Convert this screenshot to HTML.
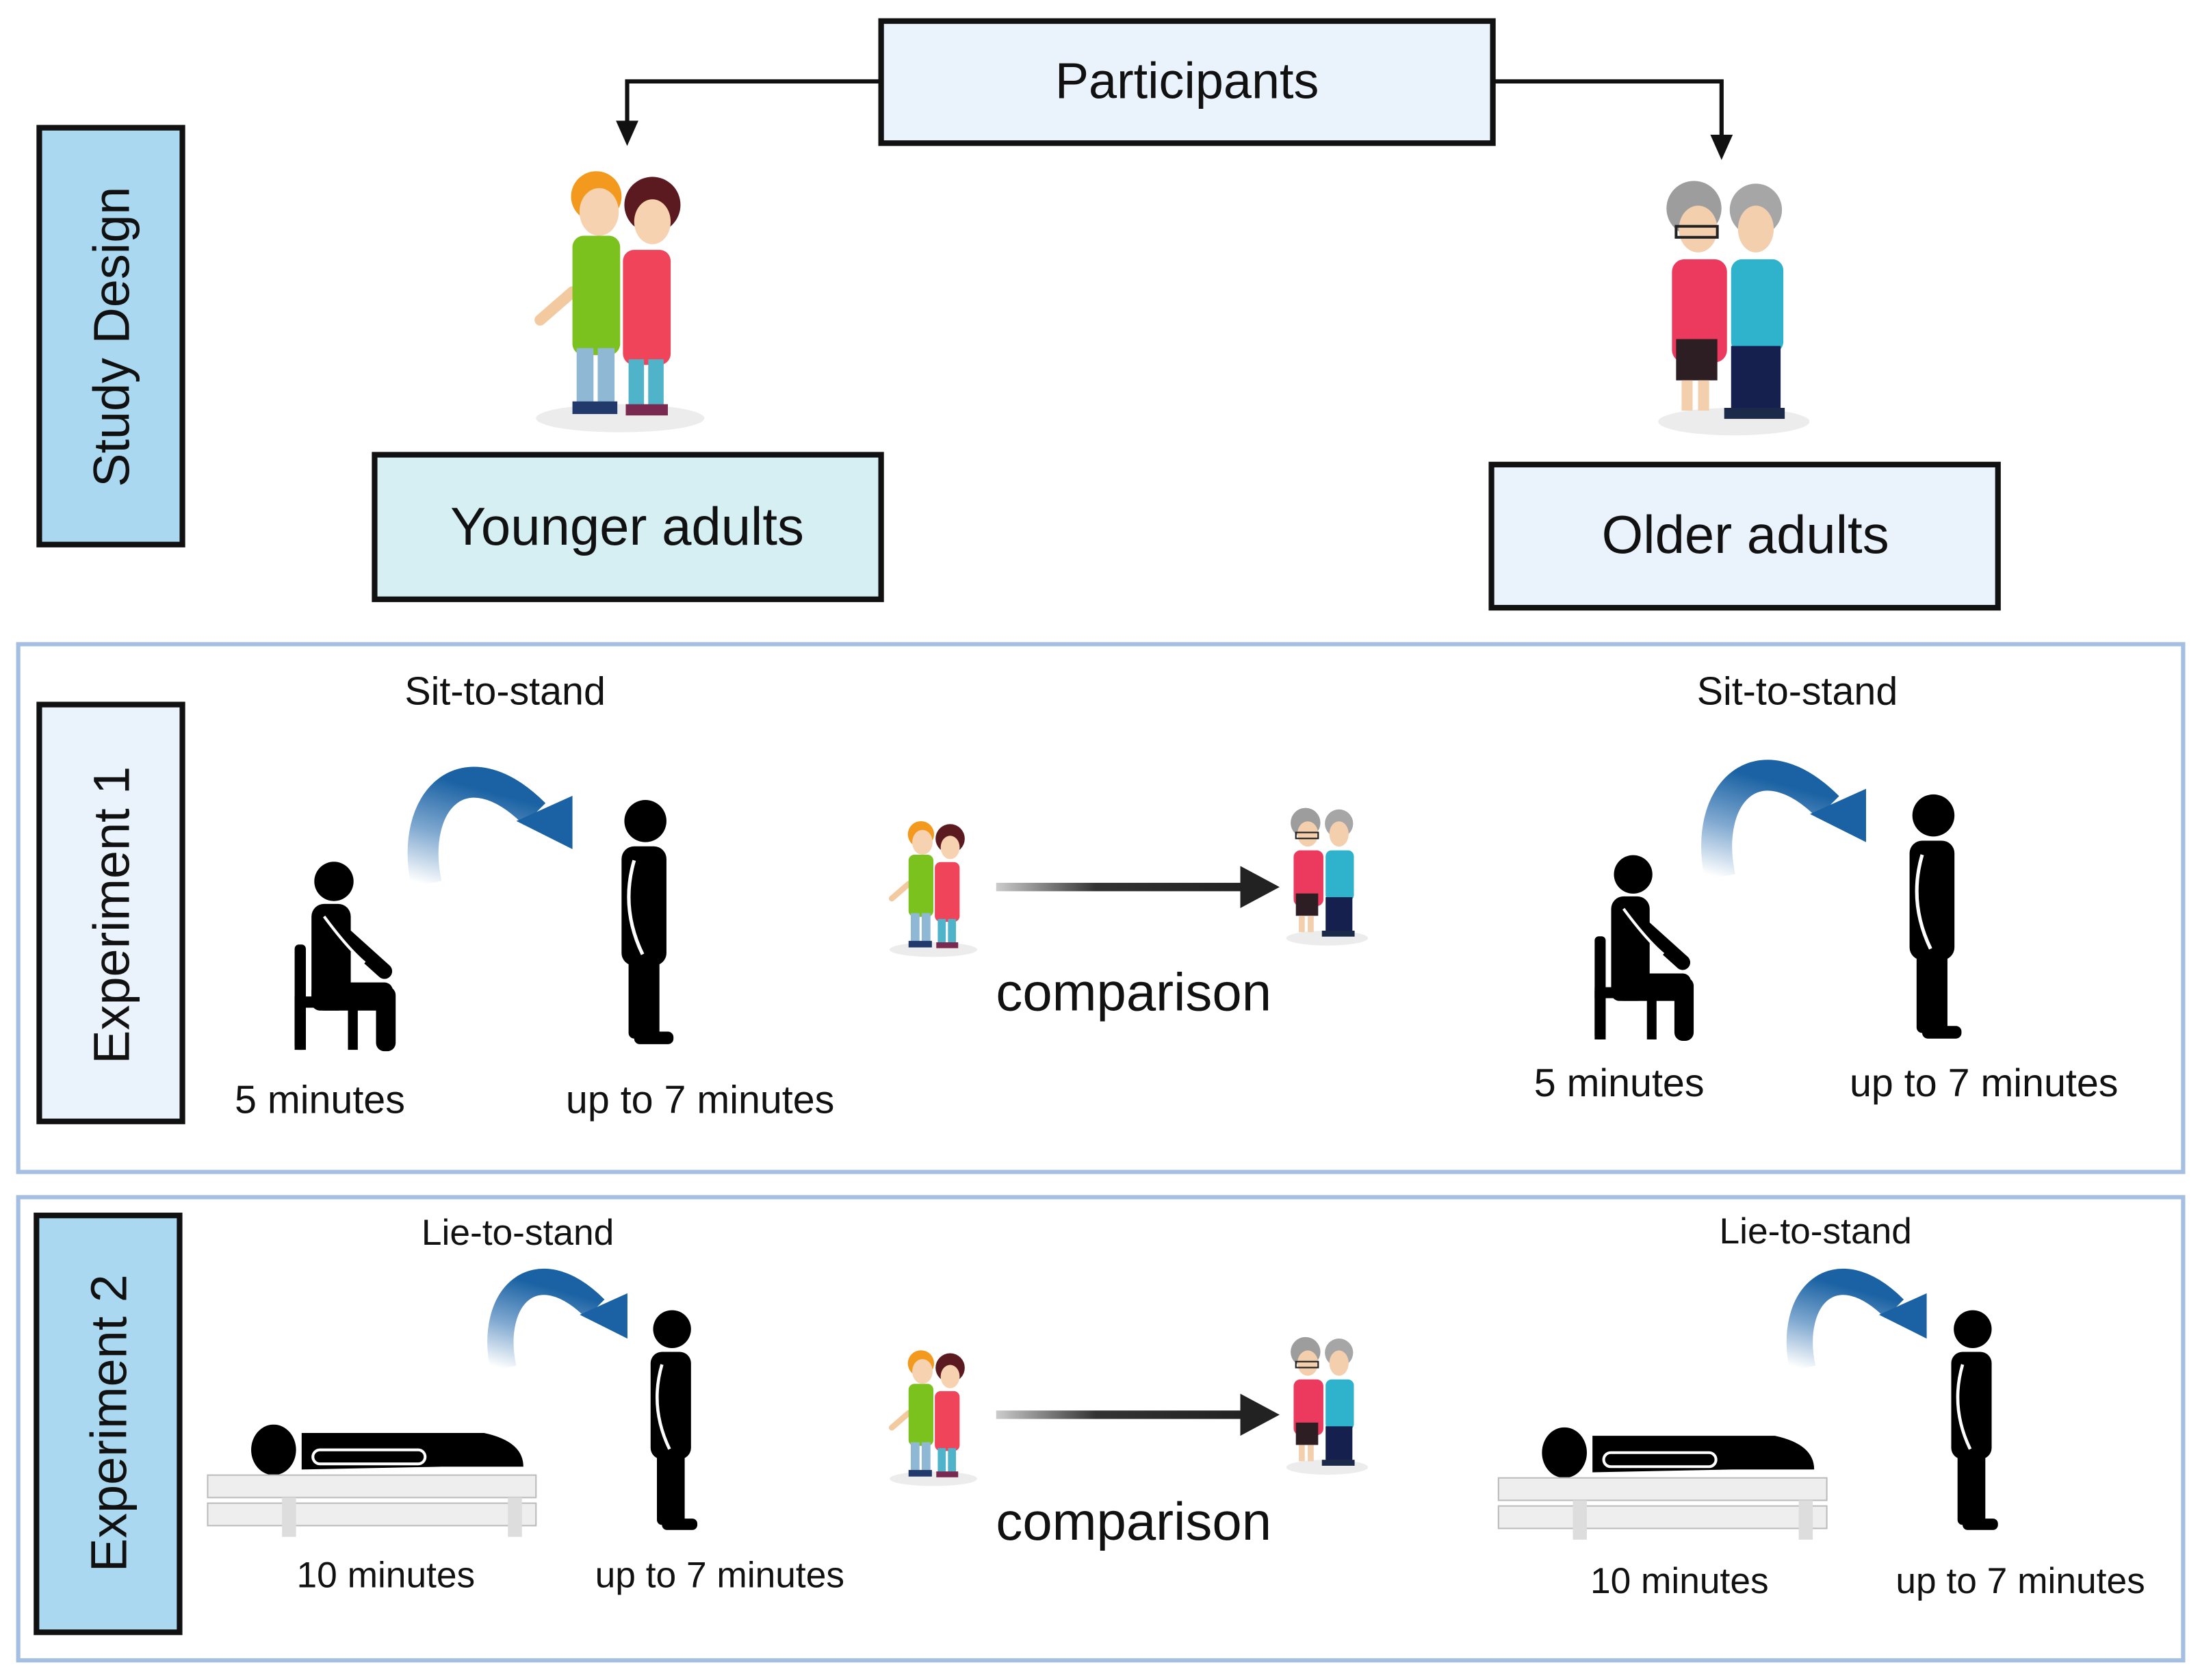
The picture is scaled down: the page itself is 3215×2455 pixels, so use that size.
<!DOCTYPE html>
<html><head><meta charset="utf-8"><style>html,body{margin:0;padding:0;background:#fff}svg{display:block}text{font-family:"Liberation Sans",sans-serif;fill:#111}</style></head>
<body>
<svg width="3215" height="2455" viewBox="0 0 1568 1197" preserveAspectRatio="none" xmlns="http://www.w3.org/2000/svg">
<defs>
<linearGradient id="ag" x1="0" y1="1" x2="0.3" y2="0"><stop offset="0" stop-color="#ffffff"/><stop offset="0.5" stop-color="#7fa8d0"/><stop offset="1" stop-color="#1a62a3"/></linearGradient>
<linearGradient id="cg" x1="0" y1="0" x2="1" y2="0"><stop offset="0" stop-color="#ccc"/><stop offset="0.4" stop-color="#333"/><stop offset="1" stop-color="#222"/></linearGradient>
<g id="stand">
<circle cx="0" cy="0" r="15"/>
<rect x="-17" y="18" width="32" height="85" rx="9"/>
<rect x="-12" y="95" width="22" height="60" rx="4"/>
<rect x="-8" y="150" width="28" height="9" rx="4"/>
<path d="M-8 28 Q-18 62 -2 95" stroke="#fff" stroke-width="2.5" fill="none"/>
</g>
<g id="sit">
<circle cx="0" cy="0" r="14"/>
<rect x="-28" y="45" width="8" height="75" rx="3"/>
<rect x="-28" y="82" width="45" height="8"/>
<rect x="-28" y="85" width="8" height="35"/>
<rect x="10" y="85" width="7" height="35"/>
<rect x="-16" y="16" width="28" height="76" rx="9"/>
<rect x="-16" y="72" width="58" height="20" rx="6"/>
<rect x="30" y="75" width="14" height="46" rx="6"/>
<path d="M-4 28 L36 64" stroke="#000" stroke-width="11" stroke-linecap="round"/>
<path d="M-7 25 Q10 48 22 58" stroke="#fff" stroke-width="2" fill="none"/>
</g>
<g id="curve">
<path d="M8 0 C-5 -60 35 -100 85 -50" stroke="url(#ag)" stroke-width="22" fill="none"/>
<polygon points="112,-25 112,-63 72,-45" fill="#1a62a3"/>
</g>
<g id="lie">
<ellipse cx="0" cy="0" rx="16" ry="18"/>
<path d="M20 -12 L150 -12 Q178 -6 178 12 L120 12 L20 14 Z"/>
<rect x="28" y="0" width="80" height="10" rx="5" fill="none" stroke="#fff" stroke-width="2"/>
<rect x="-47" y="18" width="234" height="16" fill="#eee" stroke="#bbb"/>
<rect x="-47" y="38" width="234" height="16" fill="#eee" stroke="#bbb"/>
<rect x="6" y="34" width="10" height="28" fill="#ddd"/>
<rect x="167" y="34" width="10" height="28" fill="#ddd"/>
</g>
<g id="young">
<ellipse cx="62" cy="180" rx="60" ry="10" fill="#ececec"/>
<path d="M28 90 L5 110" stroke="#f3c9a0" stroke-width="8" stroke-linecap="round"/>
<rect x="28" y="50" width="34" height="85" rx="8" fill="#7cc21f"/>
<rect x="31" y="130" width="12" height="45" fill="#8fb8d4"/>
<rect x="46" y="130" width="12" height="45" fill="#8fb8d4"/>
<rect x="28" y="168" width="32" height="9" fill="#213a6b"/>
<circle cx="45" cy="22" r="18" fill="#f39a1e"/>
<ellipse cx="47" cy="33" rx="14" ry="17" fill="#f6d2b0"/>
<circle cx="85" cy="28" r="20" fill="#5b1a1f"/>
<ellipse cx="85" cy="40" rx="13" ry="16" fill="#f6d2b0"/>
<rect x="64" y="60" width="34" height="82" rx="8" fill="#f0445a"/>
<rect x="68" y="138" width="11" height="38" fill="#4fb3c9"/>
<rect x="82" y="138" width="11" height="38" fill="#4fb3c9"/>
<rect x="66" y="170" width="30" height="8" fill="#7a2950"/>
</g>
<g id="old">
<ellipse cx="62" cy="180" rx="55" ry="10" fill="#ececec"/>
<circle cx="33" cy="25" r="20" fill="#9d9d9d"/>
<ellipse cx="36" cy="40" rx="14" ry="17" fill="#f3cfae"/>
<rect x="20" y="38" width="30" height="8" fill="none" stroke="#222" stroke-width="2"/>
<rect x="17" y="62" width="40" height="75" rx="9" fill="#ec3a5e"/>
<rect x="20" y="120" width="30" height="30" fill="#2c1e22"/>
<rect x="24" y="150" width="8" height="22" fill="#f3cfae"/>
<rect x="36" y="150" width="8" height="22" fill="#f3cfae"/>
<circle cx="78" cy="26" r="19" fill="#a6a6a6"/>
<ellipse cx="78" cy="40" rx="13" ry="17" fill="#f3cfae"/>
<rect x="60" y="62" width="38" height="68" rx="8" fill="#2fb2cc"/>
<rect x="60" y="125" width="36" height="50" fill="#16204f"/>
<rect x="55" y="170" width="44" height="8" fill="#1c2a4a"/>
</g>
</defs>

<!-- Study design -->
<rect x="28" y="91" width="102" height="297" fill="#a9d8f0" stroke="#111" stroke-width="4"/>
<text transform="translate(92,240) rotate(-90)" font-size="36" text-anchor="middle">Study Design</text>
<rect x="628" y="15" width="436" height="87" fill="#eaf3fc" stroke="#111" stroke-width="4"/>
<text x="846" y="70" font-size="36" text-anchor="middle">Participants</text>
<polyline points="628,58 447,58 447,90" fill="none" stroke="#111" stroke-width="3"/>
<polygon points="439,86 455,86 447,104" fill="#111"/>
<polyline points="1064,58 1227,58 1227,100" fill="none" stroke="#111" stroke-width="3"/>
<polygon points="1219,96 1235,96 1227,114" fill="#111"/>
<use href="#young" transform="translate(380,118) scale(1.0)"/>
<use href="#old" transform="translate(1175,124) scale(0.98)"/>
<rect x="267" y="324" width="361" height="103" fill="#d6eff2" stroke="#111" stroke-width="4"/>
<text x="447" y="388" font-size="38" text-anchor="middle">Younger adults</text>
<rect x="1063" y="331" width="361" height="102" fill="#eaf3fc" stroke="#111" stroke-width="4"/>
<text x="1244" y="394" font-size="38" text-anchor="middle">Older adults</text>

<!-- Experiment 1 -->
<rect x="13" y="459" width="1543" height="376" fill="none" stroke="#a4bfe2" stroke-width="3"/>
<rect x="28" y="502" width="102" height="297" fill="#eaf3fc" stroke="#111" stroke-width="4"/>
<text transform="translate(92,652) rotate(-90)" font-size="36" text-anchor="middle">Experiment 1</text>
<text x="360" y="502" font-size="28" text-anchor="middle">Sit-to-stand</text>
<use href="#curve" transform="translate(296,630)"/>
<use href="#sit" transform="translate(238,628)"/>
<use href="#stand" transform="translate(460,585)"/>
<text x="228" y="793" font-size="28" text-anchor="middle">5 minutes</text>
<text x="499" y="793" font-size="28" text-anchor="middle">up to 7 minutes</text>
<use href="#young" transform="translate(633,583) scale(0.52)"/>
<use href="#old" transform="translate(913,573) scale(0.53)"/>
<rect x="710" y="629" width="178" height="6" fill="url(#cg)"/>
<polygon points="884,617 884,647 912,632" fill="#222"/>
<text x="808" y="720" font-size="38" text-anchor="middle">comparison</text>
<text x="1281" y="502" font-size="28" text-anchor="middle">Sit-to-stand</text>
<use href="#curve" transform="translate(1218,625)"/>
<use href="#sit" transform="translate(1164,623) scale(0.98)"/>
<use href="#stand" transform="translate(1378,581)"/>
<text x="1154" y="781" font-size="28" text-anchor="middle">5 minutes</text>
<text x="1414" y="781" font-size="28" text-anchor="middle">up to 7 minutes</text>

<!-- Experiment 2 -->
<rect x="13" y="853" width="1543" height="330" fill="none" stroke="#a4bfe2" stroke-width="3"/>
<rect x="26" y="866" width="102" height="297" fill="#a9d8f0" stroke="#111" stroke-width="4"/>
<text transform="translate(90,1014) rotate(-90)" font-size="36" text-anchor="middle">Experiment 2</text>
<text x="369" y="887" font-size="26" text-anchor="middle">Lie-to-stand</text>
<use href="#curve" transform="translate(352,975) scale(0.85)"/>
<use href="#lie" transform="translate(195,1033)"/>
<use href="#stand" transform="translate(479,947) scale(0.9)"/>
<text x="275" y="1131" font-size="26" text-anchor="middle">10 minutes</text>
<text x="513" y="1131" font-size="26" text-anchor="middle">up to 7 minutes</text>
<use href="#young" transform="translate(633,960) scale(0.52)"/>
<use href="#old" transform="translate(913,950) scale(0.53)"/>
<rect x="710" y="1005" width="178" height="6" fill="url(#cg)"/>
<polygon points="884,993 884,1023 912,1008" fill="#222"/>
<text x="808" y="1097" font-size="38" text-anchor="middle">comparison</text>
<text x="1294" y="886" font-size="26" text-anchor="middle">Lie-to-stand</text>
<use href="#curve" transform="translate(1278,975) scale(0.85)"/>
<use href="#lie" transform="translate(1115,1035)"/>
<use href="#stand" transform="translate(1406,947) scale(0.9)"/>
<text x="1197" y="1135" font-size="26" text-anchor="middle">10 minutes</text>
<text x="1440" y="1135" font-size="26" text-anchor="middle">up to 7 minutes</text>
</svg>
</body></html>
